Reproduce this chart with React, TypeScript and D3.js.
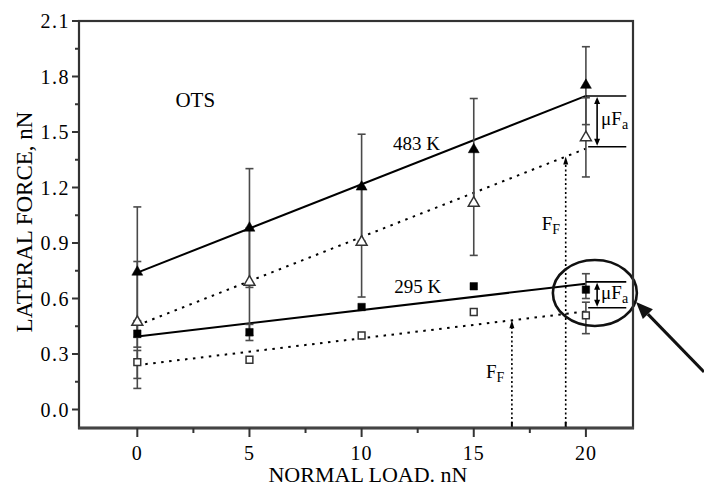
import React from 'react';
import * as d3 from 'd3';

// Normal load (nN) at which lateral force was measured
const LOADS = [0, 5, 10, 15, 20];

// 483 K series: filled triangles (upper) and open triangles (lower)
const HOT_FILLED = [0.743, 0.981, 1.203, 1.405, 1.753];
const HOT_FILLED_ERR: ([number, number] | null)[] = [[0.39, 1.095], [0.66, 1.302], [0.91, 1.488], [1.116, 1.681], [1.54, 1.961]];
const HOT_OPEN = [0.472, 0.689, 0.905, 1.116, 1.47];
const HOT_OPEN_ERR: ([number, number] | null)[] = [[0.114, 0.8], [0.4, 0.98], [0.608, 1.2], [0.833, 1.4], [1.257, 1.685]];

// 295 K series: filled squares (upper) and open squares (lower)
const ROOM_FILLED = [0.41, 0.418, 0.554, 0.666, 0.648];
const ROOM_FILLED_ERR: ([number, number] | null)[] = [[0.337, 0.48], [0.373, 0.46], null, null, [0.6, 0.734]];
const ROOM_OPEN = [0.256, 0.269, 0.4, 0.527, 0.509];
const ROOM_OPEN_ERR: ([number, number] | null)[] = [[0.168, 0.319], null, null, null, [0.41, 0.58]];

// Linear fits, given as values at the two ends of the load range
const FIT_ENDS = [0, 20];
const HOT_FIT_SOLID = [0.74, 1.695];
const HOT_FIT_DOTTED = [0.455, 1.41];
const ROOM_FIT_SOLID = [0.395, 0.68];
const ROOM_FIT_DOTTED = [0.24, 0.53];

// Loads where the friction-force (F_F) arrows are drawn
const FF_LOADS = [16.7, 19.1];

const X_TICKS = [0, 5, 10, 15, 20];
const X_MINOR = [2.5, 7.5, 12.5, 17.5];
const Y_TICKS = [0, 0.3, 0.6, 0.9, 1.2, 1.5, 1.8, 2.1];
const Y_MINOR = [0.15, 0.45, 0.75, 1.05, 1.35, 1.65, 1.95];

const SERIES_LABELS = ['483 K', '295 K'];
const SAMPLE_LABEL = 'OTS';
const X_TITLE = 'NORMAL LOAD. nN';
const Y_TITLE = 'LATERAL FORCE, nN';

const FONT = "'Liberation Serif', 'Times New Roman', serif";
const W = 704;
const H = 489;

const fitAt = (ends: number[], x: number) =>
  ends[0] + ((ends[1] - ends[0]) * (x - FIT_ENDS[0])) / (FIT_ENDS[1] - FIT_ENDS[0]);

export default function App() {
  const x = d3.scaleLinear().domain([-2.6, 22.1]).range([79, 633]);
  const y = d3.scaleLinear().domain([-0.1, 2.1]).range([428, 21]);

  const tri = d3.symbol(d3.symbolTriangle, 52)()!;
  const sq = d3.symbol(d3.symbolSquare, 56)()!;
  const sqOpen = d3.symbol(d3.symbolSquare, 46)()!;

  const fitPath = (ends: number[]) =>
    d3.line<number>().x((d) => x(d)).y((d) => y(fitAt(ends, d)))(FIT_ENDS)!;

  const errBars = (errs: ([number, number] | null)[], key: string) =>
    errs.map((e, i) => {
      if (!e) return null;
      const cx = x(LOADS[i]);
      return (
        <g key={key + i} stroke="#4a4a4a" strokeWidth={1.6}>
          <line x1={cx} x2={cx} y1={y(e[0])} y2={y(e[1])} />
          <line x1={cx - 4} x2={cx + 4} y1={y(e[0])} y2={y(e[0])} />
          <line x1={cx - 4} x2={cx + 4} y1={y(e[1])} y2={y(e[1])} />
        </g>
      );
    });

  const markers = (vals: number[], path: string, fill: string, key: string) =>
    vals.map((v, i) => (
      <path
        key={key + i}
        d={path}
        transform={`translate(${x(LOADS[i])},${y(v)})`}
        fill={fill}
        stroke={fill === 'white' ? '#333' : '#000'}
        strokeWidth={fill === 'white' ? 1.5 : 0.5}
      />
    ));

  // Bracket annotations at the end of each pair of fits
  const endX = FIT_ENDS[1];
  const bracket = (top: number, bottom: number, key: string, labelDy: number) => {
    const ax = x(20.5);
    const yt = y(top);
    const yb = y(bottom);
    return (
      <g key={key}>
        <line x1={x(endX)} x2={x(21.8)} y1={yt} y2={yt} stroke="#000" strokeWidth={1.6} />
        <line x1={x(20.1)} x2={x(21.8)} y1={yb} y2={yb} stroke="#000" strokeWidth={1.6} />
        <line x1={ax} x2={ax} y1={yt + 6} y2={yb - 6} stroke="#000" strokeWidth={1.6} />
        <path d={`M${ax},${yt + 1}L${ax - 3},${yt + 8}L${ax + 3},${yt + 8}Z`} fill="#000" />
        <path d={`M${ax},${yb - 1}L${ax - 3},${yb - 8}L${ax + 3},${yb - 8}Z`} fill="#000" />
        <text x={ax + 4} y={(yt + yb) / 2 + labelDy} fontFamily={FONT} fontSize={19} fill="#000">
          μF<tspan fontSize={14} dy={4}>a</tspan>
        </text>
      </g>
    );
  };

  const ffArrow = (load: number, ends: number[], key: string) => {
    const ax = x(load);
    const yt = y(fitAt(ends, load));
    return (
      <g key={key}>
        <line x1={ax} x2={ax} y1={428} y2={yt + 6} stroke="#000" strokeWidth={1.6} strokeDasharray="2 2.5" />
        <path d={`M${ax},${yt}L${ax - 2.5},${yt + 8}L${ax + 2.5},${yt + 8}Z`} fill="#000" />
        <line x1={ax} x2={ax} y1={422} y2={428} stroke="#000" strokeWidth={2} />
      </g>
    );
  };

  const ellCx = x(20.4);
  const ellCy = y(0.63);
  const ellRx = 42;
  const ellRy = 33;
  // Pointer arrow aimed at the lower-right side of the ellipse
  const tipX = ellCx + ellRx * 0.98;
  const tipY = ellCy + 9;
  const tailX = W;
  const tailY = tipY + (W - tipX) * 1.03;
  const ang = Math.atan2(tipY - tailY, tipX - tailX);
  const headLen = 17;
  const headHalf = 7;
  const bx = tipX - headLen * Math.cos(ang);
  const by = tipY - headLen * Math.sin(ang);
  const px = -Math.sin(ang) * headHalf;
  const py = Math.cos(ang) * headHalf;

  return (
    <svg
      width={W}
      height={H}
      viewBox={`0 0 ${W} ${H}`}
      style={{ position: 'absolute', left: 0, top: 0, background: '#fff' }}
    >
      <rect width={W} height={H} fill="#fff" />

      {/* fits */}
      <path d={fitPath(HOT_FIT_SOLID)} fill="none" stroke="#000" strokeWidth={2} />
      <path d={fitPath(HOT_FIT_DOTTED)} fill="none" stroke="#000" strokeWidth={2} strokeDasharray="2.5 5.5" />
      <path d={fitPath(ROOM_FIT_SOLID)} fill="none" stroke="#000" strokeWidth={2} />
      <path d={fitPath(ROOM_FIT_DOTTED)} fill="none" stroke="#000" strokeWidth={2} strokeDasharray="2.5 5.5" />

      {/* error bars */}
      {errBars(HOT_FILLED_ERR, 'hfe')}
      {errBars(HOT_OPEN_ERR, 'hoe')}
      {errBars(ROOM_FILLED_ERR, 'rfe')}
      {errBars(ROOM_OPEN_ERR, 'roe')}

      {/* markers */}
      {markers(HOT_FILLED, tri, '#000', 'hf')}
      {markers(HOT_OPEN, tri, 'white', 'ho')}
      {markers(ROOM_FILLED, sq, '#000', 'rf')}
      {markers(ROOM_OPEN, sqOpen, 'white', 'ro')}

      {/* annotations */}
      {bracket(fitAt(HOT_FIT_SOLID, endX), fitAt(HOT_FIT_DOTTED, endX) + 0.01, 'b1', 4)}
      {bracket(fitAt(ROOM_FIT_SOLID, endX) + 0.01, fitAt(ROOM_FIT_DOTTED, endX) + 0.02, 'b2', 4)}
      {ffArrow(FF_LOADS[0], ROOM_FIT_DOTTED, 'ff1')}
      {ffArrow(FF_LOADS[1], HOT_FIT_DOTTED, 'ff2')}

      <text x={x(19.1) - 24} y={y(0.97)} fontFamily={FONT} fontSize={19} fill="#000">
        F<tspan fontSize={14} dy={4}>F</tspan>
      </text>
      <text x={x(16.7) - 26} y={y(0.17)} fontFamily={FONT} fontSize={19} fill="#000">
        F<tspan fontSize={14} dy={4}>F</tspan>
      </text>

      <text x={x(11.4)} y={y(1.405)} fontFamily={FONT} fontSize={19} fill="#000">
        {SERIES_LABELS[0]}
      </text>
      <text x={x(11.45)} y={y(0.632)} fontFamily={FONT} fontSize={19} fill="#000">
        {SERIES_LABELS[1]}
      </text>
      <text x={x(1.7)} y={y(1.635)} fontFamily={FONT} fontSize={21} fill="#000">
        {SAMPLE_LABEL}
      </text>

      <ellipse cx={ellCx} cy={ellCy} rx={ellRx} ry={ellRy} fill="none" stroke="#111" strokeWidth={2.6} />
      <line x1={tailX} y1={tailY} x2={bx} y2={by} stroke="#111" strokeWidth={3} />
      <path d={`M${tipX},${tipY}L${bx + px},${by + py}L${bx - px},${by - py}Z`} fill="#111" />

      {/* frame */}
      <rect x={79} y={21} width={554} height={407} fill="none" stroke="#333" strokeWidth={2.2} />
      <line x1={78} x2={634} y1={428} y2={428} stroke="#444" strokeWidth={3} />

      {/* x axis */}
      {X_TICKS.map((t) => (
        <g key={'xt' + t}>
          <line x1={x(t)} x2={x(t)} y1={428} y2={437} stroke="#333" strokeWidth={2} />
          <text x={x(t)} y={460} textAnchor="middle" fontFamily={FONT} fontSize={20} letterSpacing={1} fill="#000">
            {t}
          </text>
        </g>
      ))}
      {X_MINOR.map((t) => (
        <line key={'xm' + t} x1={x(t)} x2={x(t)} y1={428} y2={433} stroke="#333" strokeWidth={2} />
      ))}

      {/* y axis */}
      {Y_TICKS.map((t) => (
        <g key={'yt' + t}>
          <line x1={72} x2={79} y1={y(t)} y2={y(t)} stroke="#333" strokeWidth={2} />
          <text x={70} y={y(t) + 7} textAnchor="end" fontFamily={FONT} fontSize={20} letterSpacing={1.5} fill="#000">
            {d3.format('.1f')(t)}
          </text>
        </g>
      ))}
      {Y_MINOR.map((t) => (
        <line key={'ym' + t} x1={75} x2={79} y1={y(t)} y2={y(t)} stroke="#333" strokeWidth={2} />
      ))}

      <text x={(79 + 633) / 2 + 12} y={482} textAnchor="middle" fontFamily={FONT} fontSize={22} fill="#000">
        {X_TITLE}
      </text>
      <text
        transform={`translate(32,${222}) rotate(-90)`}
        textAnchor="middle"
        fontFamily={FONT}
        fontSize={23}
        fill="#000"
      >
        {Y_TITLE}
      </text>
    </svg>
  );
}
